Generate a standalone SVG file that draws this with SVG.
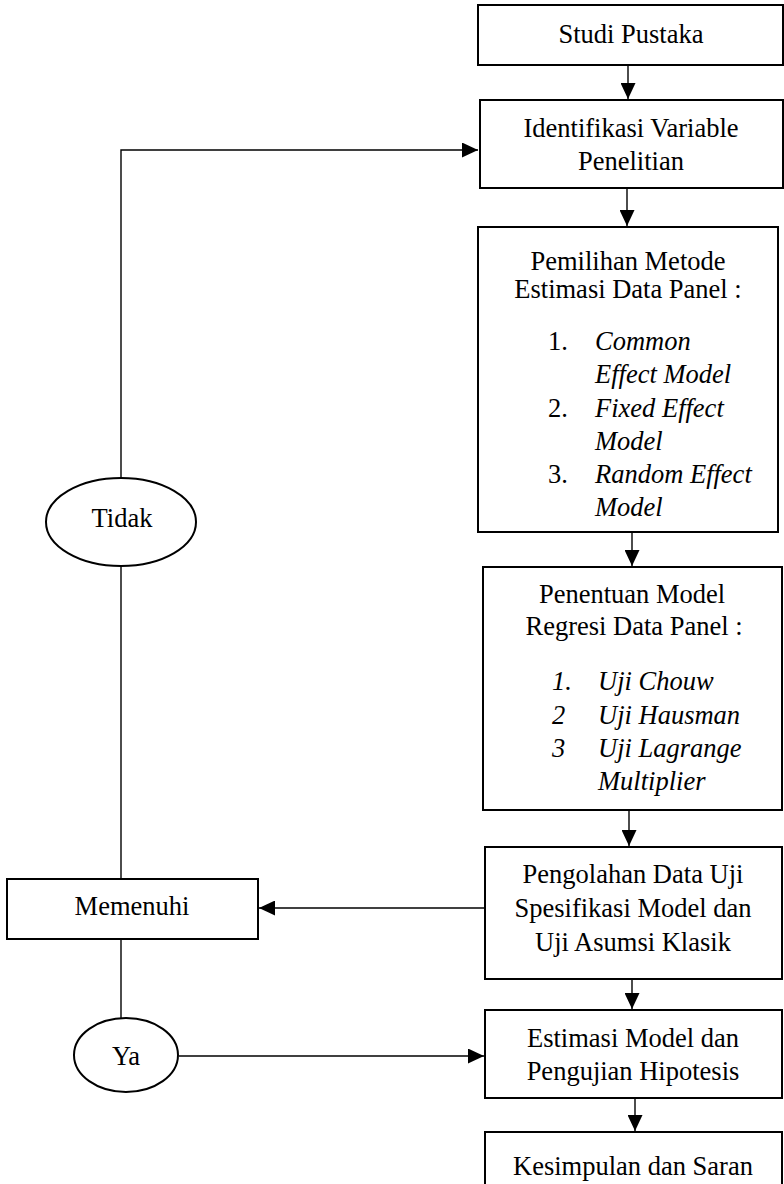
<svg xmlns="http://www.w3.org/2000/svg" width="784" height="1184" viewBox="0 0 784 1184">
<style>
  .box { fill: #fff; stroke: #000; stroke-width: 2; }
  .conn { fill: none; stroke: #000; stroke-width: 1.4; }
  text { font-family: "Liberation Serif", "Times New Roman", serif; font-size: 26.5px; fill: #000; }
  .c { text-anchor: middle; }
  .i { font-style: italic; }
</style>
<defs>
  <marker id="arr" viewBox="0 0 16 15" refX="16" refY="7.5" markerWidth="16" markerHeight="15" markerUnits="userSpaceOnUse" orient="auto">
    <path d="M0,0 L16,7.5 L0,15 z" fill="#000"/>
  </marker>
</defs>
<rect width="784" height="1184" fill="#fff"/>
<g id="connectors">
  <line class="conn" x1="628" y1="65" x2="628" y2="99" marker-end="url(#arr)"/>
  <line class="conn" x1="627" y1="188" x2="627" y2="226" marker-end="url(#arr)"/>
  <line class="conn" x1="632" y1="532" x2="632" y2="566" marker-end="url(#arr)"/>
  <line class="conn" x1="629" y1="810" x2="629" y2="846" marker-end="url(#arr)"/>
  <line class="conn" x1="632" y1="979" x2="632" y2="1009" marker-end="url(#arr)"/>
  <line class="conn" x1="635" y1="1098" x2="635" y2="1131" marker-end="url(#arr)"/>
  <polyline class="conn" points="121,478 121,150 478,150" marker-end="url(#arr)"/>
  <line class="conn" x1="121" y1="566" x2="121" y2="879"/>
  <line class="conn" x1="485" y1="908" x2="259" y2="908" marker-end="url(#arr)"/>
  <line class="conn" x1="121" y1="939" x2="121" y2="1018"/>
  <line class="conn" x1="179" y1="1056" x2="484" y2="1056" marker-end="url(#arr)"/>
</g>
<g id="studi">
  <rect class="box" x="478" y="5" width="305" height="60"/>
  <text class="c" x="631" y="43">Studi Pustaka</text>
</g>
<g id="identifikasi">
  <rect class="box" x="480" y="100" width="303" height="88"/>
  <text class="c" x="631" y="137">Identifikasi Variable</text>
  <text class="c" x="631" y="170">Penelitian</text>
</g>
<g id="pemilihan">
  <rect class="box" x="478" y="227" width="300" height="305"/>
  <text class="c" x="628" y="270">Pemilihan Metode</text>
  <text class="c" x="628" y="298">Estimasi Data Panel :</text>
  <text x="548" y="350">1.</text>
  <text class="i" x="595" y="350">Common</text>
  <text class="i" x="595" y="383">Effect Model</text>
  <text x="548" y="417">2.</text>
  <text class="i" x="595" y="417">Fixed Effect</text>
  <text class="i" x="595" y="450">Model</text>
  <text x="548" y="483">3.</text>
  <text class="i" x="595" y="483">Random Effect</text>
  <text class="i" x="595" y="516">Model</text>
</g>
<g id="penentuan">
  <rect class="box" x="483" y="567" width="299" height="243"/>
  <text class="c" x="632" y="603">Penentuan Model</text>
  <text class="c" x="634" y="635">Regresi Data Panel  :</text>
  <text class="i" x="552" y="690">1.</text>
  <text class="i" x="598" y="690">Uji Chouw</text>
  <text class="i" x="552" y="724">2</text>
  <text class="i" x="598" y="724">Uji Hausman</text>
  <text class="i" x="552" y="757">3</text>
  <text class="i" x="598" y="757">Uji Lagrange</text>
  <text class="i" x="598" y="790">Multiplier</text>
</g>
<g id="pengolahan">
  <rect class="box" x="485" y="847" width="297" height="132"/>
  <text class="c" x="633" y="883">Pengolahan Data Uji</text>
  <text class="c" x="633" y="917">Spesifikasi Model dan</text>
  <text class="c" x="633" y="951">Uji Asumsi Klasik</text>
</g>
<g id="estimasi">
  <rect class="box" x="485" y="1010" width="297" height="88"/>
  <text class="c" x="633" y="1047">Estimasi Model dan</text>
  <text class="c" x="633" y="1080">Pengujian Hipotesis</text>
</g>
<g id="kesimpulan">
  <rect class="box" x="485" y="1132" width="297" height="60"/>
  <text class="c" x="633" y="1175">Kesimpulan dan Saran</text>
</g>
<g id="tidak">
  <ellipse class="box" cx="121" cy="522" rx="75" ry="44"/>
  <text class="c" x="122" y="527">Tidak</text>
</g>
<g id="memenuhi">
  <rect class="box" x="7" y="879" width="251" height="60"/>
  <text class="c" x="132" y="915">Memenuhi</text>
</g>
<g id="ya">
  <ellipse class="box" cx="126" cy="1055" rx="52" ry="37"/>
  <text class="c" x="126" y="1065">Ya</text>
</g>
</svg>
